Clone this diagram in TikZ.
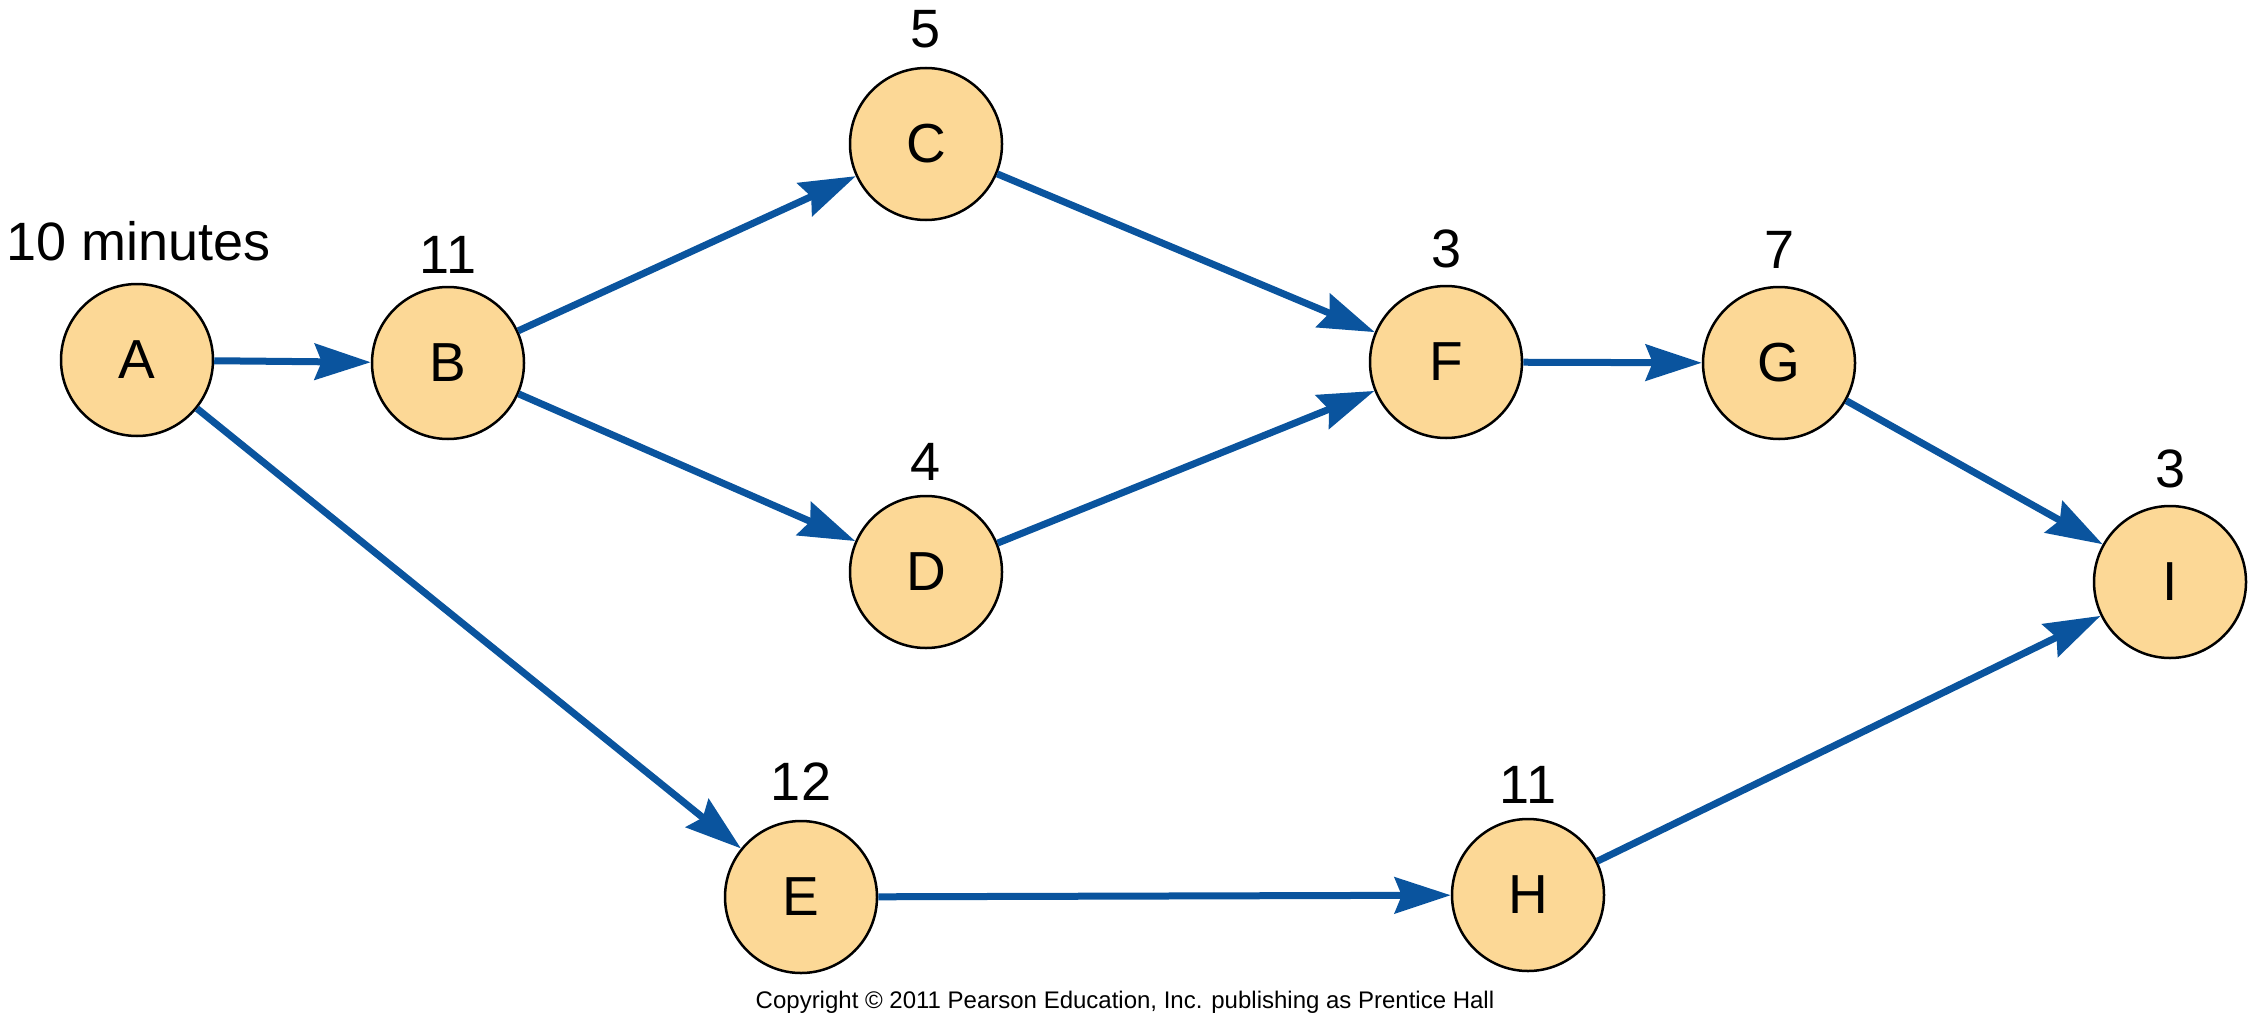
\documentclass[tikz,border=0pt]{standalone}
\usepackage{fontspec}
\setmainfont{Liberation Sans}
\usetikzlibrary{arrows.meta}
\definecolor{nodefill}{RGB}{252,216,150}
\definecolor{arrowblue}{RGB}{10,84,158}
\begin{document}
\begin{tikzpicture}[x=1pt,y=-1pt,
  act/.style={circle,draw=black,line width=2.5pt,fill=nodefill,minimum size=152pt,inner sep=0pt,font=\fontsize{55}{60}\selectfont},
  dur/.style={font=\fontsize{54}{58}\selectfont,inner sep=0pt},
  flow/.style={draw=arrowblue,line width=7pt,-{Stealth[length=56pt,width=36pt,inset=7pt]}}]
\useasboundingbox (0,0) rectangle (2250,1033);
\node[act] (A) at (137,360) {A};
\node[act] (B) at (448,363) {B};
\node[act] (C) at (926,144) {C};
\node[act] (D) at (926,572) {D};
\node[act] (E) at (801,897) {E};
\node[act] (F) at (1446,362) {F};
\node[act] (G) at (1779,363) {G};
\node[act] (H) at (1528,895) {H};
\node[act] (I) at (2170,582) {I};
\node[dur] (lA) at (139,241) {10 minutes};
\node[dur] (lB) at (448,255) {11};
\node[dur] (lC) at (926,29) {5};
\node[dur] (lD) at (926,462) {4};
\node[dur] (lE) at (801,782) {12};
\node[dur] (lF) at (1446,249) {3};
\node[dur] (lG) at (1779,250) {7};
\node[dur] (lH) at (1528,785) {11};
\node[dur] (lI) at (2170,469) {3};
\node[font=\fontsize{24}{28}\selectfont,inner sep=0pt] (copy) at (1125,1002) {Copyright \textcopyright{} 2011 Pearson Education, Inc. publishing as Prentice Hall};
\draw[flow] (A) -- (B);
\draw[flow] (A) -- (E);
\draw[flow] (B) -- (C);
\draw[flow] (B) -- (D);
\draw[flow] (C) -- (F);
\draw[flow] (D) -- (F);
\draw[flow] (F) -- (G);
\draw[flow] (G) -- (I);
\draw[flow] (E) -- (H);
\draw[flow] (H) -- (I);
\end{tikzpicture}
\end{document}
